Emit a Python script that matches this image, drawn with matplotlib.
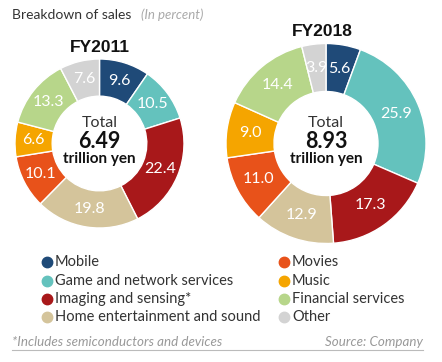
import matplotlib
matplotlib.use("Agg")
import matplotlib.pyplot as plt
from matplotlib.lines import Line2D
import numpy as np

categories = ["Mobile", "Game and network services", "Imaging and sensing*",
              "Home entertainment and sound", "Movies", "Music",
              "Financial services", "Other"]
fy2011 = [9.6, 10.5, 22.4, 19.8, 10.1, 6.6, 13.3, 7.6]
fy2018 = [5.6, 25.9, 17.3, 12.9, 11.0, 9.0, 14.4, 3.9]
totals = ["6.49", "8.93"]
years = ["FY2011", "FY2018"]
colors = ["#1f4a78", "#64c2bd", "#a8181a", "#d4c49b",
          "#e8521a", "#f5a500", "#b7d68a", "#d3d3d3"]

W, H = 442, 362
fig = plt.figure(figsize=(W / 100, H / 100), dpi=100)
FONT = "Lato"


def px_axes(cx, cy, r):
    return fig.add_axes([(cx - r) / W, 1 - (cy + r) / H, 2 * r / W, 2 * r / H])


def donut(ax, vals, inner, total, r):
    ring = 1 - inner
    wedges, _ = ax.pie(vals, colors=colors, startangle=90, counterclock=False,
                       radius=1, wedgeprops=dict(width=ring, edgecolor="white", linewidth=1.0))
    rl = 1 - ring / 2
    for w, v in zip(wedges, vals):
        ang = np.deg2rad((w.theta1 + w.theta2) / 2)
        ax.text(rl * np.cos(ang), rl * np.sin(ang), f"{v:.1f}", color="white",
                ha="center", va="center", fontsize=11.5, family=FONT)
    ax.text(0, 20.5 / r, "Total", ha="center", va="center", fontsize=11.5,
            color="#333333", family=FONT)
    ax.text(0, 1.5 / r, total, ha="center", va="center", fontsize=15.5,
            fontweight="bold", color="#111111", family=FONT)
    ax.text(0, -15.5 / r, "trillion yen", ha="center", va="center", fontsize=11,
            fontweight="bold", color="#111111", family=FONT)
    ax.set_xlim(-1, 1)
    ax.set_ylim(-1, 1)
    ax.set_aspect("equal")
    ax.axis("off")


ax1 = px_axes(99.5, 143.5, 84.5)
donut(ax1, fy2011, 0.56, totals[0], 84.5)
ax2 = px_axes(326, 143.5, 100)
donut(ax2, fy2018, 0.52, totals[1], 100)

# Titles
t1 = fig.text(12 / W, 1 - 15 / H, "Breakdown of sales", ha="left", va="center",
              fontsize=10, color="#333333", family=FONT)
fig.text(141 / W, 1 - 15 / H, "(In percent)", ha="left", va="center",
         fontsize=9.5, color="#aaaaaa", style="italic", family=FONT)
fig.text(99.5 / W, 1 - 47 / H, years[0], ha="center", va="center", fontsize=12.5,
         fontweight="bold", color="#111111", family="Liberation Sans")
fig.text(322 / W, 1 - 31 / H, years[1], ha="center", va="center", fontsize=12.5,
         fontweight="bold", color="#111111", family="Liberation Sans")

# Legend
rows_y = [262, 281, 299, 317]
for i, (cat, col) in enumerate(zip(categories, colors)):
    colx = 47 if i < 4 else 284
    y = rows_y[i % 4]
    fig.add_artist(Line2D([colx / W], [1 - y / H], marker="o", markersize=7.5,
                          color=col, linestyle="none", transform=fig.transFigure))
    fig.text((colx + 8) / W, 1 - y / H, cat, ha="left", va="center", fontsize=10.5,
             color="#333333", family=FONT)

# Footnote
fig.text(12 / W, 1 - 342 / H, "*Includes semiconductors and devices", ha="left",
         va="center", fontsize=9.6, color="#999999", style="italic", family=FONT)
fig.text(423 / W, 1 - 342 / H, "Source: Company", ha="right", va="center",
         fontsize=9.6, color="#999999", style="italic", family=FONT)
fig.add_artist(Line2D([12 / W, 423 / W], [1 - 350 / H, 1 - 350 / H], color="#bbbbbb",
                      linewidth=0.8, transform=fig.transFigure))

fig.savefig("out.png", dpi=100)
